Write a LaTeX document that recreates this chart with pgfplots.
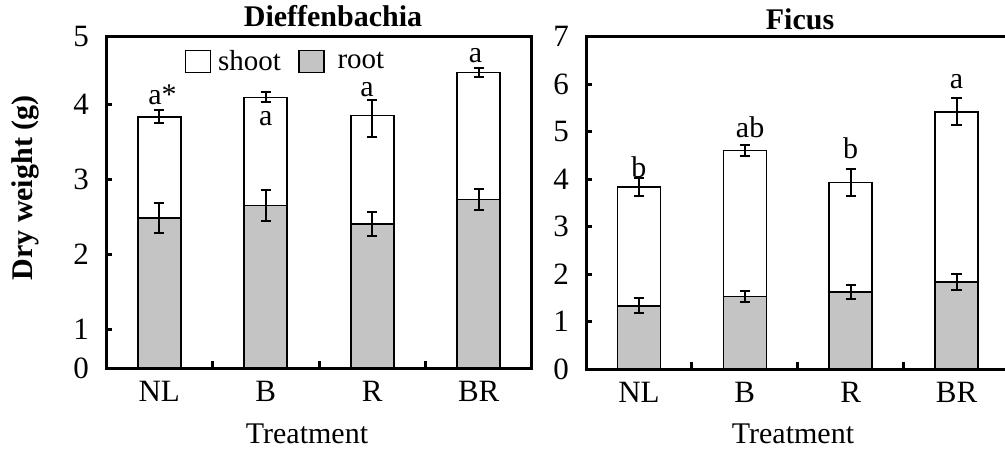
\documentclass[border=0pt]{standalone}
\usepackage{fontspec}
\setmainfont{Liberation Serif}
\usepackage{pgfplots}
\pgfplotsset{compat=1.18}

% Bar heights: total dry weight (shoot + root) and root dry weight, with errors
% Dieffenbachia
\pgfplotstableread{
x total terr root rerr
0 3.83 0.085 2.48 0.20
1 4.09 0.065 2.65 0.21
2 3.85 0.250 2.40 0.16
3 4.42 0.060 2.73 0.14
}\dieff
% Ficus
\pgfplotstableread{
x total terr root rerr
0 3.83 0.19 1.33 0.16
1 4.60 0.11 1.53 0.12
2 3.93 0.28 1.62 0.15
3 5.42 0.29 1.83 0.17
}\ficus

\newcommand{\txt}{\fontsize{15}{18}\selectfont}
\newcommand{\tck}{\fontsize{15.5}{18}\selectfont}
\definecolor{rootgray}{gray}{0.77}

\tikzset{letter/.style={font=\txt, anchor=base, inner sep=0pt}}

\pgfplotsset{
  panel/.style={
    scale only axis,
    anchor=south west,
    axis line style={line width=1.5pt},
    xmin=-0.5, xmax=3.5,
    xtick={0,1,2,3}, xticklabels={NL,B,R,BR},
    major x tick style={draw=none},
    minor xtick={0.5,1.5,2.5},
    minor tick length=3.5pt,
    major tick length=3pt,
    xtick pos=bottom, ytick pos=left,
    tick align=inside,
    every tick/.style={line width=1.5pt, black},
    tick label style={font=\tck},
    /pgf/number format/assume math mode=true,
    xticklabel style={anchor=base, yshift=-16.8pt},
    yticklabel style={xshift=-5pt},
    clip=false,
  },
  shootbar/.style={ybar, bar width=21.5pt, fill=white, draw=black, line width=0.8pt},
  rootbar/.style={ybar, bar width=21.5pt, fill=rootgray, draw=black, line width=0.8pt},
  ebar/.style={draw=none, mark=none, forget plot,
    error bars/.cd, y dir=both, y explicit,
    error bar style={line width=1pt, black},
    error mark options={rotate=90, line width=1pt, mark size=2.6pt, black}},
}

\begin{document}
\begin{tikzpicture}
% ---------------- Dieffenbachia ----------------
\begin{axis}[panel,
  at={(53pt,41pt)}, width=213pt, height=165.6pt,
  ymin=0.484, ymax=4.897,
  ytick={0.484,1,2,3,4,4.897}, yticklabels={0,1,2,3,4,5},
  legend style={at={(0.42,0.925)}, anchor=center, draw=none, fill=none,
    font=\fontsize{14.5}{17}\selectfont, legend columns=2, inner sep=0pt,
    nodes={inner sep=0.5pt},
    /tikz/column 1/.style={column sep=3pt},
    /tikz/column 2/.style={column sep=8pt},
    /tikz/column 3/.style={column sep=6pt}},
  legend image code/.code={\draw[#1, line width=0.8pt] (0pt,-5.5pt) rectangle (12.5pt,5.5pt);},
]
\addplot[shootbar] table[x=x, y=total] {\dieff};
\addlegendentry{shoot}
\addplot[rootbar] table[x=x, y=root] {\dieff};
\addlegendentry{root}
\addplot[ebar] coordinates {(0,3.83) +- (0,0.085) (1,4.09) +- (0,0.065) (3,4.42) +- (0,0.06)};
\addplot[ebar] coordinates {(2,3.85) += (0,0.21) -= (0,0.29)};
\addplot[ebar] table[x=x, y=root, y error=rerr] {\dieff};
\node[letter] at (axis cs:0.03,4.00) {a*};
\node[letter] at (axis cs:1,3.72) {a};
\node[letter] at (axis cs:1.95,4.10) {a};
\node[letter] at (axis cs:2.97,4.56) {a};
\end{axis}

% ---------------- Ficus ----------------
\begin{axis}[panel,
  at={(293pt,40.5pt)}, width=211.75pt, height=166.15pt,
  ymin=0, ymax=7, ytick={0,1,...,7},
]
\addplot[shootbar] table[x=x, y=total] {\ficus};
\addplot[rootbar] table[x=x, y=root] {\ficus};
\addplot[ebar] table[x=x, y=total, y error=terr] {\ficus};
\addplot[ebar] table[x=x, y=root, y error=rerr] {\ficus};
\node[letter] at (axis cs:0,4.04) {b};
\node[letter] at (axis cs:1.05,4.88) {ab};
\node[letter] at (axis cs:2,4.43) {b};
\node[letter] at (axis cs:3,5.91) {a};
\end{axis}

% titles and axis labels
\node[font=\txt\bfseries, anchor=base] at (166.5pt,211.5pt) {Dieffenbachia};
\node[font=\txt\bfseries, anchor=base] at (400pt,210pt) {Ficus};
\node[font=\txt\bfseries, rotate=90] at (12.5pt,131pt) {Dry weight (g)};
\node[font=\txt, anchor=base] at (153.5pt,3.5pt) {Treatment};
\node[font=\txt, anchor=base] at (396.5pt,3.5pt) {Treatment};

\pgfresetboundingbox
\path[use as bounding box] (0,0) rectangle (502.5pt,225pt);
\end{tikzpicture}
\end{document}
